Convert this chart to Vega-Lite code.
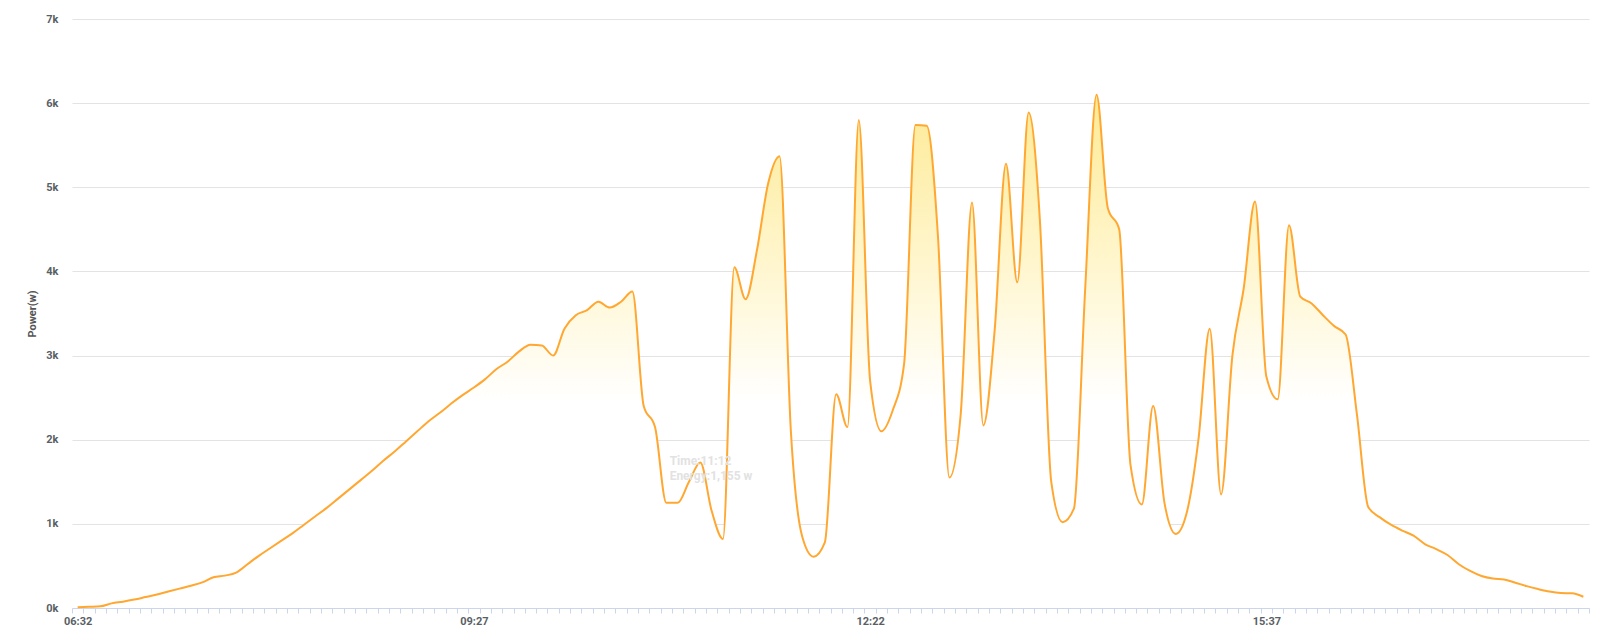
{
  "$schema": "https://vega.github.io/schema/vega-lite/v6.json",
  "autosize": {"type": "none"},
  "width": 1517,
  "height": 589,
  "padding": {"left": 72, "top": 19, "right": 18, "bottom": 34},
  "background": "#ffffff",
  "config": {
    "view": {"stroke": null},
    "font": "Roboto"
  },
  "datasets": {
    "power": [
      {"t":"06:32","p":10},{"t":"06:37","p":15},{"t":"06:42","p":20},{"t":"06:47","p":55},{"t":"06:52","p":75},
      {"t":"06:57","p":100},{"t":"07:02","p":130},{"t":"07:07","p":160},{"t":"07:12","p":195},{"t":"07:17","p":230},
      {"t":"07:22","p":265},{"t":"07:27","p":305},{"t":"07:32","p":365},{"t":"07:37","p":385},{"t":"07:42","p":420},
      {"t":"07:47","p":520},{"t":"07:52","p":620},{"t":"07:57","p":710},{"t":"08:02","p":800},{"t":"08:07","p":890},
      {"t":"08:12","p":990},{"t":"08:17","p":1090},{"t":"08:22","p":1190},{"t":"08:27","p":1300},{"t":"08:32","p":1410},
      {"t":"08:37","p":1520},{"t":"08:42","p":1630},{"t":"08:47","p":1750},{"t":"08:52","p":1860},{"t":"08:57","p":1980},
      {"t":"09:02","p":2100},{"t":"09:07","p":2220},{"t":"09:12","p":2320},{"t":"09:17","p":2430},{"t":"09:22","p":2530},
      {"t":"09:27","p":2620},{"t":"09:32","p":2720},{"t":"09:37","p":2840},{"t":"09:42","p":2930},{"t":"09:47","p":3050},
      {"t":"09:52","p":3130},{"t":"09:57","p":3120},{"t":"10:02","p":3000},{"t":"10:07","p":3320},{"t":"10:12","p":3480},
      {"t":"10:17","p":3540},{"t":"10:22","p":3640},{"t":"10:27","p":3570},{"t":"10:32","p":3640},{"t":"10:37","p":3760},
      {"t":"10:42","p":2400},{"t":"10:47","p":2150},{"t":"10:52","p":1250},{"t":"10:57","p":1250},{"t":"11:02","p":1500},
      {"t":"11:07","p":1730},{"t":"11:12","p":1155},{"t":"11:17","p":820},{"t":"11:22","p":4050},{"t":"11:27","p":3670},
      {"t":"11:32","p":4250},{"t":"11:37","p":5050},{"t":"11:42","p":5370},{"t":"11:47","p":2100},{"t":"11:52","p":850},
      {"t":"11:57","p":610},{"t":"12:02","p":780},{"t":"12:07","p":2540},{"t":"12:12","p":2150},{"t":"12:17","p":5800},
      {"t":"12:22","p":2700},{"t":"12:27","p":2100},{"t":"12:32","p":2350},{"t":"12:37","p":2900},{"t":"12:42","p":5740},
      {"t":"12:52","p":5730},{"t":"12:57","p":4400},{"t":"13:02","p":1550},{"t":"13:07","p":2300},{"t":"13:12","p":4820},
      {"t":"13:22","p":2170},{"t":"13:27","p":3300},{"t":"13:32","p":5280},{"t":"13:37","p":3870},{"t":"13:42","p":5890},
      {"t":"13:47","p":4600},{"t":"13:52","p":1500},{"t":"13:57","p":1020},{"t":"14:02","p":1180},{"t":"14:07","p":3800},
      {"t":"14:17","p":6100},{"t":"14:22","p":4750},{"t":"14:27","p":4500},{"t":"14:32","p":1700},{"t":"14:37","p":1230},
      {"t":"14:47","p":2400},{"t":"14:52","p":1250},{"t":"14:57","p":880},{"t":"15:02","p":1150},{"t":"15:07","p":2000},
      {"t":"15:12","p":3320},{"t":"15:17","p":1350},{"t":"15:22","p":3000},{"t":"15:27","p":3800},{"t":"15:32","p":4830},
      {"t":"15:37","p":2750},{"t":"15:42","p":2480},{"t":"15:47","p":4550},{"t":"15:52","p":3700},{"t":"15:57","p":3620},
      {"t":"16:02","p":3480},{"t":"16:07","p":3350},{"t":"16:12","p":3250},{"t":"16:17","p":2300},{"t":"16:22","p":1200},
      {"t":"16:27","p":1080},{"t":"16:32","p":990},{"t":"16:37","p":920},{"t":"16:42","p":860},{"t":"16:47","p":760},
      {"t":"16:52","p":700},{"t":"16:57","p":630},{"t":"17:02","p":520},{"t":"17:07","p":440},{"t":"17:12","p":380},
      {"t":"17:17","p":350},{"t":"17:22","p":340},{"t":"17:27","p":300},{"t":"17:32","p":260},{"t":"17:37","p":225},
      {"t":"17:42","p":195},{"t":"17:47","p":178},{"t":"17:52","p":175},{"t":"17:57","p":134}
    ],
    "tip": [
      {"t":"11:12","p":1155,"label":"Time:11:12\nEnergy:1,155 w"}
    ]
  },
  "encoding": {
    "x": {
      "field": "t",
      "type": "ordinal",
      "scale": {"type": "band", "paddingInner": 0, "paddingOuter": 0},
      "axis": {
        "title": null,
        "tickBand": "extent",
        "labelAngle": 0,
        "labelExpr": "indexof(['06:32','09:27','12:22','15:37'], datum.value) >= 0 ? datum.label : ''",
        "labelOverlap": false,
        "labelFont": "Roboto",
        "labelFontSize": 11,
        "labelFontWeight": "bold",
        "labelColor": "#5a5f66",
        "labelPadding": 2,
        "tickSize": 5,
        "tickColor": "#ccd6eb",
        "domainColor": "#ccd6eb",
        "grid": false
      }
    },
    "y": {
      "field": "p",
      "type": "quantitative",
      "scale": {"domain": [0, 7000], "nice": false},
      "axis": {
        "title": "Power(w)",
        "titleFont": "Roboto",
        "titleFontSize": 11,
        "titleFontWeight": "bold",
        "titleColor": "#555555",
        "titlePadding": 8,
        "values": [0, 1000, 2000, 3000, 4000, 5000, 6000, 7000],
        "labelExpr": "(datum.value / 1000) + 'k'",
        "labelFont": "Roboto",
        "labelFontSize": 11,
        "labelFontWeight": "bold",
        "labelColor": "#5a5f66",
        "labelPadding": 14,
        "ticks": false,
        "domain": false,
        "grid": true,
        "gridColor": "#e3e3e3",
        "gridWidth": 1
      }
    }
  },
  "layer": [
    {
      "data": {"name": "power"},
      "mark": {
        "type": "area",
        "interpolate": "monotone",
        "color": {
          "gradient": "linear",
          "x1": 0, "y1": 0, "x2": 0, "y2": 1,
          "stops": [
            {"offset": 0, "color": "#fdea95"},
            {"offset": 0.3, "color": "#fff5c9"},
            {"offset": 0.6, "color": "#ffffff"},
            {"offset": 1, "color": "#ffffff"}
          ]
        }
      }
    },
    {
      "data": {"name": "power"},
      "mark": {"type": "line", "interpolate": "monotone", "color": "#ffa730", "strokeWidth": 2}
    },
    {
      "data": {"name": "tip"},
      "mark": {
        "type": "text",
        "align": "left",
        "baseline": "top",
        "dx": -42,
        "dy": -55,
        "lineBreak": "\n",
        "lineHeight": 15,
        "font": "Roboto",
        "fontSize": 12,
        "fontWeight": "bold",
        "color": "#e2e2e2"
      },
      "encoding": {"text": {"field": "label"}}
    }
  ]
}
